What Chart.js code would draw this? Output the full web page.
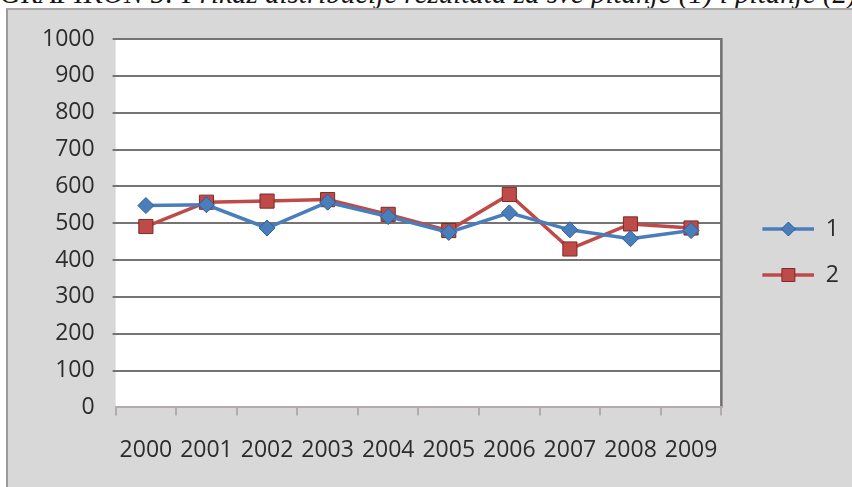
<!DOCTYPE html>
<html>
<head>
<meta charset="utf-8">
<script src="https://cdn.jsdelivr.net/npm/chart.js@4.4.0/dist/chart.umd.min.js"></script>
<style>
html, body { margin: 0; padding: 0; background: #fff; overflow: hidden; }
#caption { position: absolute; left: 0; top: -23px; font: italic 29px "Liberation Serif", serif; white-space: nowrap; color: #151515; }
#frame { position: absolute; left: 6px; top: 8px; width: 860px; height: 490px; background: #d9d8d8; border-left: 2px solid #9c9a9a; border-top: 2px solid #a9a7a7; }
#wrap { position: absolute; left: 0; top: 0; width: 852px; height: 487px; }
</style>
</head>
<body>
<div id="caption">GRAFIKON 5: Prikaz distribucije rezultata za sve pitanje (1) i pitanje (2)</div>
<div id="frame"></div>
<div id="wrap"><canvas id="chart"></canvas></div>
<script>
//-----------------------------------------------------------------------------
// Data
//-----------------------------------------------------------------------------

var years = ['2000', '2001', '2002', '2003', '2004', '2005', '2006', '2007', '2008', '2009'];
var series1 = [548, 550, 487, 557, 518, 475, 528, 482, 458, 480];
var series2 = [491, 557, 560, 564, 524, 480, 578, 430, 498, 487];
var seriesNames = ['1', '2'];
var yMin = 0, yMax = 1000, yStep = 100;

var blue = '#4a7ebb', blueDark = '#2f5f9a';
var red = '#be4b48', redDark = '#7c2b28';
var textColor = '#2c2c2c';
var axisFont = { family: '"Open Sans", sans-serif', size: 23 };

//-----------------------------------------------------------------------------
// Legend symbols (line with marker, like the office chart)
//-----------------------------------------------------------------------------

function legendSymbol(color, border, shape) {
  var c = document.createElement('canvas');
  c.width = 70; c.height = 20;
  var g = c.getContext('2d');
  g.strokeStyle = color; g.lineWidth = 3.5;
  g.beginPath(); g.moveTo(18, 10); g.lineTo(70, 10); g.stroke();
  g.fillStyle = color; g.strokeStyle = border; g.lineWidth = 1;
  g.beginPath();
  if (shape == 'diamond') {
    g.moveTo(44, 3); g.lineTo(51, 10); g.lineTo(44, 17); g.lineTo(37, 10); g.closePath();
  } else {
    g.rect(37.5, 3.5, 13, 13);
  }
  g.fill(); g.stroke();
  return c;
}
var symbols = [legendSymbol(blue, blueDark, 'diamond'), legendSymbol(red, redDark, 'square')];

// white plot area and its right border
var plotBg = {
  id: 'plotBg',
  afterLayout: function(chart) {
    // the office legend sits a little above the middle
    if (chart.legend) chart.legend.bottom -= 20;
  },
  beforeDraw: function(chart) {
    var a = chart.chartArea, ctx = chart.ctx;
    ctx.save();
    ctx.fillStyle = '#fff';
    ctx.fillRect(a.left, a.top, a.right - a.left, a.bottom - a.top);
    ctx.strokeStyle = '#6f6d6d';
    ctx.lineWidth = 2.5;
    ctx.beginPath(); ctx.moveTo(a.right, a.top - 1); ctx.lineTo(a.right, a.bottom); ctx.stroke();
    ctx.restore();
  }
};

//-----------------------------------------------------------------------------
// Chart
//-----------------------------------------------------------------------------

new Chart(document.getElementById('chart'), {
  type: 'line',
  data: {
    labels: years,
    datasets: [{
      label: seriesNames[0],
      data: series1,
      borderColor: blue,
      backgroundColor: blue,
      borderWidth: 3.5,
      pointStyle: 'rectRot',
      pointRadius: 8,
      pointBorderColor: blueDark,
      pointBorderWidth: 1,
      tension: 0
    }, {
      label: seriesNames[1],
      data: series2,
      borderColor: red,
      backgroundColor: red,
      borderWidth: 3.5,
      pointStyle: 'rect',
      pointRadius: 10,
      pointBorderColor: redDark,
      pointBorderWidth: 1,
      tension: 0
    }]
  },
  options: {
    responsive: true,
    maintainAspectRatio: false,
    animation: false,
    layout: { padding: { top: 39, left: 24, right: 3, bottom: 2 } },
    plugins: {
      tooltip: { enabled: false },
      legend: {
        position: 'right',
        labels: {
          usePointStyle: true,
          pointStyleWidth: 70,
          padding: 23,
          color: textColor,
          font: axisFont,
          generateLabels: function(chart) {
            var items = Chart.defaults.plugins.legend.labels.generateLabels(chart);
            items.forEach(function(it, i) { it.pointStyle = symbols[i]; });
            return items;
          }
        }
      }
    },
    scales: {
      x: {
        offset: true,
        grid: { offset: true, drawOnChartArea: false, tickLength: 8, color: '#b2acac', lineWidth: 2 },
        border: { color: '#b2acac', width: 2 },
        ticks: { color: textColor, font: axisFont, padding: 21, maxRotation: 0, autoSkip: false }
      },
      y: {
        min: yMin,
        max: yMax,
        grid: {
          tickLength: 3,
          lineWidth: 2,
          color: function(ctx) { return ctx.tick && ctx.tick.value === 0 ? 'rgba(0,0,0,0)' : '#777373'; }
        },
        border: { display: false },
        ticks: {
          stepSize: yStep, color: textColor, font: axisFont, padding: 18,
          callback: function(v) { return String(v); }
        }
      }
    }
  },
  plugins: [plotBg]
});
</script>
</body>
</html>
